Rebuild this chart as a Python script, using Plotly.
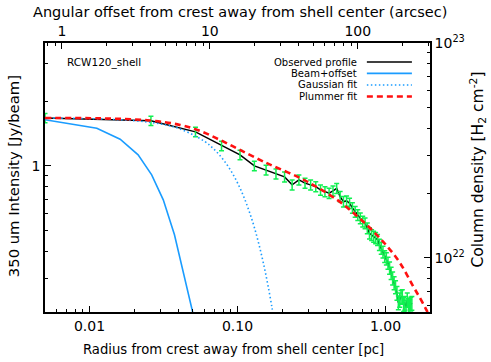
import numpy as np
import plotly.graph_objects as go

# ---------------- data ----------------
# Observed radial profile: radius [pc], intensity [Jy/beam], 1-sigma error
r_obs = [0.005, 0.026, 0.052, 0.078, 0.104, 0.130, 0.156, 0.182, 0.208, 0.234,
         0.260, 0.286, 0.312, 0.338, 0.364, 0.390, 0.416, 0.442, 0.468, 0.494,
         0.520, 0.546, 0.572, 0.598, 0.624, 0.650, 0.676, 0.702, 0.728, 0.754,
         0.780, 0.806, 0.832, 0.858, 0.884, 0.910, 0.936, 0.962, 0.988, 1.014,
         1.040, 1.066, 1.092, 1.118, 1.144, 1.170, 1.196, 1.222, 1.248, 1.274,
         1.300, 1.326, 1.352, 1.378, 1.404, 1.430, 1.456, 1.482, 1.508]
I_obs = [1.671, 1.620, 1.440, 1.240, 1.125, 1.000, 0.958, 0.918, 0.889, 0.816,
         0.861, 0.831, 0.816, 0.801, 0.773, 0.759, 0.746, 0.765, 0.786, 0.720,
         0.682, 0.687, 0.670, 0.638, 0.612, 0.591, 0.571, 0.551, 0.541, 0.513,
         0.486, 0.477, 0.469, 0.462, 0.453, 0.430, 0.414, 0.398, 0.379, 0.370,
         0.353, 0.335, 0.317, 0.300, 0.285, 0.273, 0.256, 0.231, 0.238, 0.245,
         0.247, 0.227, 0.230, 0.220, 0.238, 0.224, 0.222, 0.228, 0.230]
err_obs = [0.082, 0.080, 0.072, 0.063, 0.058, 0.052, 0.050, 0.048, 0.047, 0.044,
           0.046, 0.044, 0.044, 0.043, 0.042, 0.041, 0.041, 0.041, 0.042, 0.039,
           0.038, 0.038, 0.037, 0.036, 0.035, 0.034, 0.033, 0.032, 0.031, 0.030,
           0.029, 0.028, 0.028, 0.028, 0.027, 0.026, 0.026, 0.025, 0.024, 0.024,
           0.023, 0.022, 0.021, 0.021, 0.020, 0.019, 0.019, 0.017, 0.018, 0.018,
           0.018, 0.017, 0.017, 0.017, 0.018, 0.017, 0.017, 0.017, 0.017]

# Beam + offset
r_beam = [0.005, 0.0112, 0.0161, 0.0213, 0.0263, 0.0315, 0.0375, 0.0441, 0.0505]
I_beam = [1.640, 1.497, 1.331, 1.125, 0.908, 0.695, 0.478, 0.295, 0.200]

# Gaussian fit
r_gau = [0.005, 0.01, 0.02, 0.03, 0.04, 0.06, 0.07, 0.08, 0.09, 0.10,
         0.11, 0.12, 0.13, 0.14, 0.15, 0.16, 0.17, 0.18]
I_gau = [1.670, 1.658, 1.624, 1.568, 1.494, 1.300, 1.188, 1.071, 0.952, 0.834,
         0.721, 0.614, 0.517, 0.428, 0.350, 0.282, 0.2245, 0.176]

# Plummer fit
r_plu = [0.005, 0.01177, 0.02561, 0.04085, 0.05575, 0.07608, 0.1039, 0.1418,
         0.1736, 0.2642, 0.3606, 0.4922, 0.6414, 0.8226, 1.0228, 1.2520,
         1.5326, 1.7093, 1.906, 2.065]
I_plu = [1.671, 1.663, 1.627, 1.551, 1.455, 1.321, 1.187, 1.066, 1.000, 0.879,
         0.782, 0.680, 0.585, 0.498, 0.424, 0.354, 0.2767, 0.243, 0.2116, 0.188]

# axes
x_range_pc = [0.005, 2.0]
y_range_int = [0.209, 3.73]
y_range_nh2 = [5.6e21, 1.0e23]
pc_per_arcsec = 0.0065
x_ticks = [0.01, 0.1, 1.0]
x_ticktext = ["0.01", "0.10", "1.00"]
top_ticks = [1, 10, 100]
top_ticktext = ["1", "10", "100"]
y_ticks = [1.0]
y_ticktext = ["1"]
y2_ticks = [1e22, 1e23]
y2_ticktext = ["10<sup>22</sup>", "10<sup>23</sup>"]

legend_names = ["Observed profile", "Beam+offset", "Gaussian fit", "Plummer fit"]

BLUE = "#1a9cff"
RED = "#ff1010"
GREEN = "#10f050"
FONT = "DejaVu Sans"

def minor_vals(lo, hi):
    vals = []
    for e in range(int(np.floor(np.log10(lo))) - 1, int(np.ceil(np.log10(hi))) + 1):
        for m in range(2, 10):
            v = m * 10.0 ** e
            if lo * 0.999 <= v <= hi * 1.001:
                vals.append(v)
    return vals

fig = go.Figure()

fig.add_trace(go.Scatter(x=r_obs, y=I_obs, mode="lines",
                         line=dict(color="black", width=1.5), showlegend=False))
fig.add_trace(go.Scatter(x=r_obs, y=I_obs, mode="markers",
                         marker=dict(size=1, color="rgba(0,0,0,0)"),
                         error_y=dict(type="data", array=err_obs, color=GREEN,
                                      thickness=1.5, width=2.5),
                         showlegend=False))
fig.add_trace(go.Scatter(x=r_beam, y=I_beam, mode="lines",
                         line=dict(color=BLUE, width=1.6), showlegend=False))
fig.add_trace(go.Scatter(x=r_gau, y=I_gau, mode="lines", line_shape="spline",
                         line=dict(color=BLUE, width=1.6, dash="1.5px,2.5px"),
                         showlegend=False))
fig.add_trace(go.Scatter(x=r_plu, y=I_plu, mode="lines", line_shape="spline",
                         line=dict(color=RED, width=2.6, dash="6px,4px"),
                         showlegend=False))
# invisible trace to carry the secondary (top / right) axes
fig.add_trace(go.Scatter(x=[v / pc_per_arcsec for v in r_plu],
                         y=[v * 2.68e22 for v in I_plu],
                         xaxis="x2", yaxis="y2", mode="lines",
                         line=dict(color="rgba(0,0,0,0)"),
                         hoverinfo="skip", showlegend=False))

axis_common = dict(type="log", showgrid=False, zeroline=False, showline=True,
                   linecolor="black", linewidth=1.5, ticks="inside",
                   ticklen=6, tickwidth=1.3, tickcolor="black",
                   tickfont=dict(family=FONT, size=14, color="black"))

fig.update_layout(
    width=491, height=362,
    margin=dict(l=45, r=61, t=43, b=50),
    paper_bgcolor="white", plot_bgcolor="white",
    xaxis=dict(axis_common, range=[np.log10(x_range_pc[0]), np.log10(x_range_pc[1])],
               tickmode="array", tickvals=x_ticks, ticktext=x_ticktext,
               minor=dict(tickmode="array", tickvals=minor_vals(*x_range_pc),
                          ticks="inside", ticklen=3.5, tickwidth=1.2, tickcolor="black")),
    xaxis2=dict(axis_common, overlaying="x", side="top", anchor="y",
                range=[np.log10(x_range_pc[0] / pc_per_arcsec),
                       np.log10(x_range_pc[1] / pc_per_arcsec)],
                tickmode="array", tickvals=top_ticks, ticktext=top_ticktext,
                minor=dict(tickmode="array",
                           tickvals=minor_vals(x_range_pc[0] / pc_per_arcsec,
                                               x_range_pc[1] / pc_per_arcsec)
                           + [0.8, 0.9],
                           ticks="inside", ticklen=3.5, tickwidth=1.2, tickcolor="black")),
    yaxis=dict(axis_common, range=[np.log10(y_range_int[0]), np.log10(y_range_int[1])],
               tickmode="array", tickvals=y_ticks, ticktext=y_ticktext,
               minor=dict(tickmode="array", tickvals=minor_vals(*y_range_int),
                          ticks="inside", ticklen=3.5, tickwidth=1.2, tickcolor="black")),
    yaxis2=dict(axis_common, overlaying="y", side="right", anchor="x",
                range=[np.log10(y_range_nh2[0]), np.log10(y_range_nh2[1])],
                tickmode="array", tickvals=y2_ticks, ticktext=y2_ticktext,
                minor=dict(tickmode="array", tickvals=minor_vals(*y_range_nh2),
                           ticks="inside", ticklen=3.5, tickwidth=1.2, tickcolor="black")),
)

annotations = [
    dict(text="Angular offset from crest away from shell center (arcsec)",
         x=0.506, y=1.115, xref="paper", yref="paper", showarrow=False,
         xanchor="center", yanchor="middle",
         font=dict(family=FONT, size=14.5, color="black")),
    dict(text="Radius from crest away from shell center [pc]",
         x=0.49, y=-0.141, xref="paper", yref="paper", showarrow=False,
         xanchor="center", yanchor="middle",
         font=dict(family=FONT, size=13.2, color="black")),
    dict(text="350 um Intensity [Jy/beam]", textangle=-90,
         x=-0.083, y=0.505, xref="paper", yref="paper", showarrow=False,
         xanchor="center", yanchor="middle",
         font=dict(family=FONT, size=14.8, color="black")),
    dict(text="Column density [H<sub>2</sub> cm<sup>-2</sup>]", textangle=-90,
         x=1.125, y=0.53, xref="paper", yref="paper", showarrow=False,
         xanchor="center", yanchor="middle",
         font=dict(family=FONT, size=15.5, color="black")),
    dict(text="RCW120_shell", x=0.052, y=0.929, xref="paper", yref="paper",
         showarrow=False, xanchor="left", yanchor="middle",
         font=dict(family=FONT, size=10.5, color="black")),
]

leg_y = [0.929, 0.887, 0.844, 0.801]
leg_styles = [dict(color="black", width=1.5),
              dict(color=BLUE, width=1.6),
              dict(color=BLUE, width=1.6, dash="1.5px,2.5px"),
              dict(color=RED, width=2.6, dash="6px,4px")]
shapes = []
for name, yy, st in zip(legend_names, leg_y, leg_styles):
    annotations.append(dict(text=name, x=0.815, y=yy, xref="paper", yref="paper",
                            showarrow=False, xanchor="right", yanchor="middle",
                            font=dict(family=FONT, size=10, color="black")))
    shapes.append(dict(type="line", xref="paper", yref="paper",
                       x0=0.836, x1=0.953, y0=yy, y1=yy, line=st))

fig.update_layout(annotations=annotations, shapes=shapes)

fig.write_html("out.html",
               config={"displayModeBar": False},
               post_script="document.body.style.margin='0px';"
                           "document.body.style.padding='0px';"
                           "document.body.style.overflow='hidden';")
